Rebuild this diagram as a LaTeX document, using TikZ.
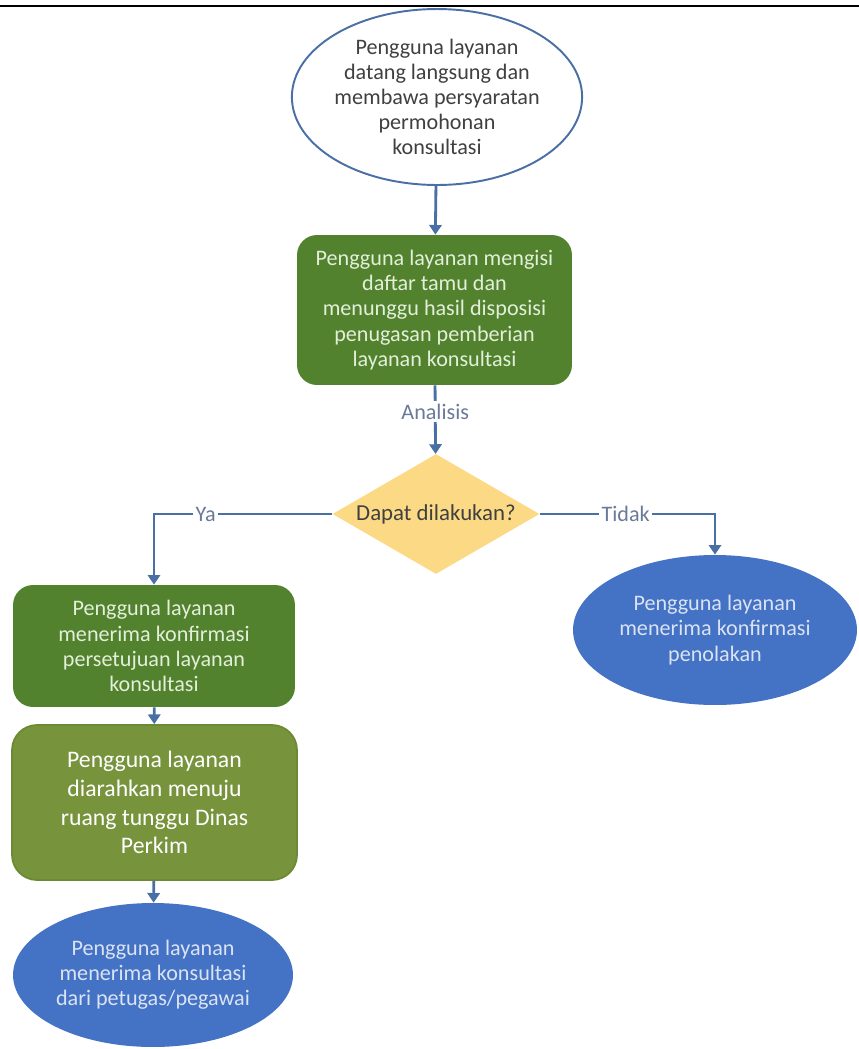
\documentclass[tikz,border=0pt]{standalone}
\usepackage{fontspec}
\setmainfont{Carlito}
\usepackage{tikz}
\usetikzlibrary{shapes.geometric}
\usetikzlibrary{arrows.meta}
\definecolor{garis}{HTML}{4A6FA5}
\definecolor{hijautua}{HTML}{53822F}
\definecolor{zaitun}{HTML}{77933C}
\definecolor{tepizaitun}{HTML}{6B8A33}
\definecolor{biru}{HTML}{4472C4}
\definecolor{kuning}{HTML}{FCD985}
\definecolor{teksabu}{HTML}{404040}
\definecolor{tekshijau}{HTML}{E2EFD9}
\definecolor{teksbiru}{HTML}{DAE3F3}
\definecolor{tekslabel}{HTML}{6A7A98}
\tikzset{every node/.style={align=center,inner sep=0pt},
 teks/.style={font=\fontsize{12.6}{14.3}\selectfont},
 awal/.style={teks,ellipse,draw=garis,line width=1.1pt,fill=white,text=teksabu},
 proses/.style={teks,rectangle,rounded corners=0.4cm,fill=hijautua,text=tekshijau},
 arahan/.style={rectangle,rounded corners=0.5cm,fill=zaitun,draw=tepizaitun,line width=1pt,
   text=white,font=\fontsize{13.5}{16.4}\selectfont},
 akhir/.style={teks,ellipse,fill=biru,text=teksbiru},
 pilih/.style={diamond,fill=kuning,text=teksabu,aspect=1.7,font=\fontsize{13}{15}\selectfont},
 panah/.style={draw=garis,line width=1.6pt,-{Triangle[width=7pt,length=5.5pt]}},
 label/.style={fill=white,inner sep=1.5pt,text=tekslabel,font=\fontsize{12.6}{14}\selectfont},
 }

\begin{document}
\begin{tikzpicture}[x=0.02cm,y=-0.02cm]
        \useasboundingbox (0,0) rectangle (859,1049);
        \draw[line width=1.1pt] (0,6) -- (859,6);
        \node[awal, minimum width=5.7cm, minimum height=3.52cm] (mulai) at (437,97)
            {Pengguna layanan\\datang langsung dan\\membawa persyaratan\\permohonan\\konsultasi};
        \node[proses, minimum width=5.5cm, minimum height=3cm] (isi) at (434.5,310)
            {Pengguna layanan mengisi\\daftar tamu dan\\menunggu hasil disposisi\\penugasan pemberian\\layanan konsultasi};
        \node[pilih, minimum width=4.14cm, minimum height=2.4cm] (cek) at (436,514) {Dapat dilakukan?};
        \node[proses, minimum width=5.64cm, minimum height=2.44cm] (setuju) at (154,646)
            {Pengguna layanan\\menerima konfirmasi\\persetujuan layanan\\konsultasi};
        \node[arahan, minimum width=5.7cm, minimum height=3.1cm] (arah) at (154.5,802.5)
            {Pengguna layanan\\diarahkan menuju\\ruang tunggu Dinas\\Perkim};
        \node[akhir, minimum width=5.6cm, minimum height=2.88cm] (konsul) at (153,975)
            {Pengguna layanan\\menerima konsultasi\\dari petugas/pegawai};
        \node[akhir, minimum width=5.68cm, minimum height=3cm] (tolak) at (715,630)
            {Pengguna layanan\\menerima konfirmasi\\penolakan};
        % alur
        \draw[panah] (mulai) -- (isi);
        \draw[panah] (isi) -- node[label, pos=0.38] {Analisis} (cek);
        \draw[panah] (cek.west) -- node[label, pos=0.71] {Ya} (setuju.north |- cek.west) -- (setuju.north);
        \draw[panah] (cek.east) -- node[label, pos=0.49] {Tidak} (tolak.north |- cek.east) -- (tolak.north);
        \draw[panah] (setuju) -- (arah);
        \draw[panah] (arah) -- (konsul);
    \end{tikzpicture}
\end{document}
